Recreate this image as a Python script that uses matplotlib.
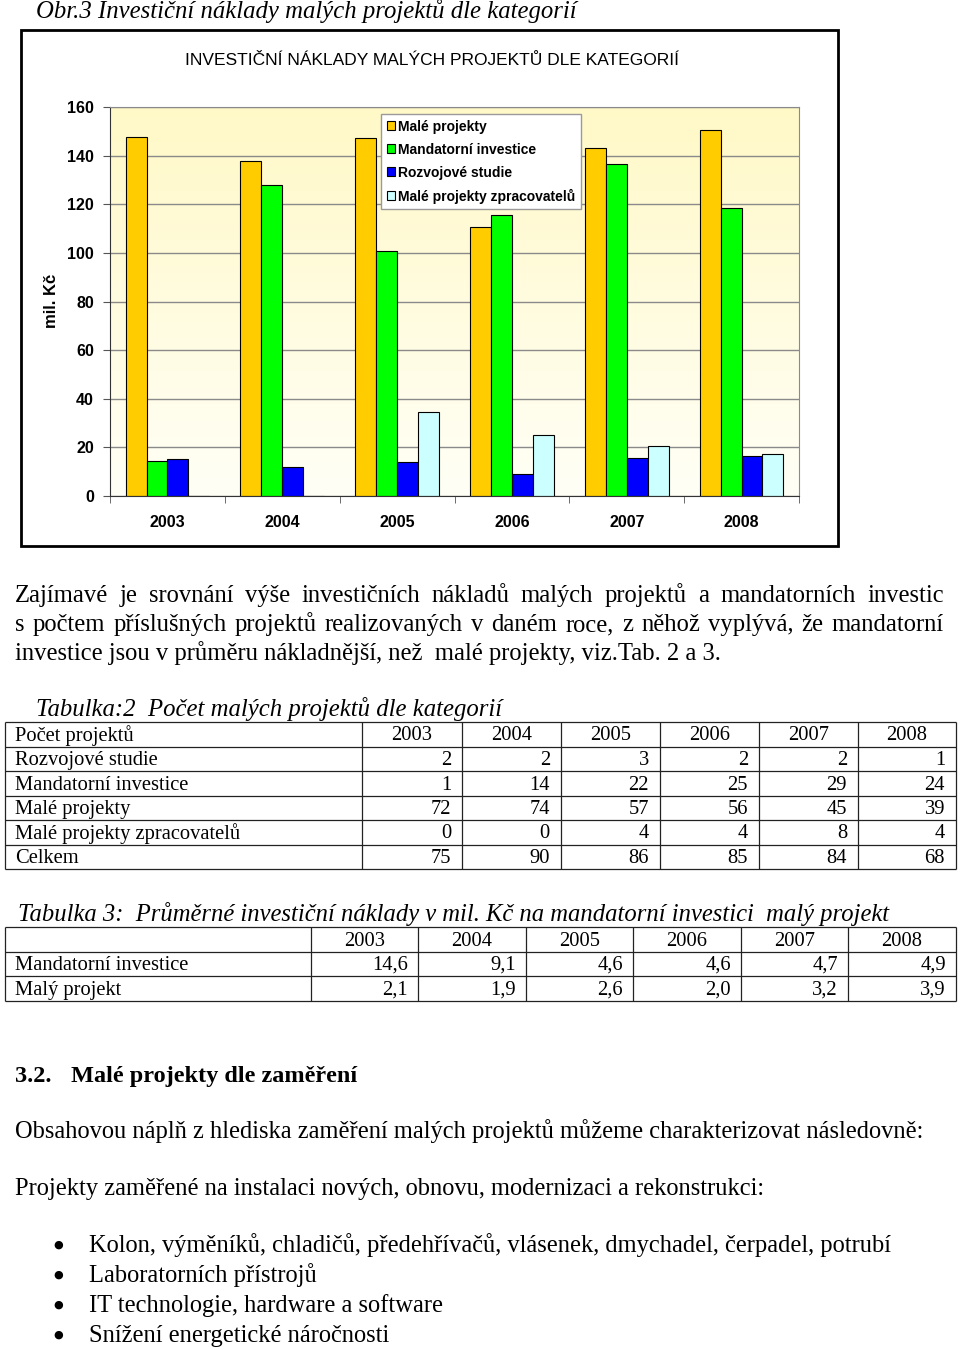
import numpy as np
import matplotlib
matplotlib.use("Agg")
import matplotlib.pyplot as plt
from matplotlib.patches import Rectangle

## data
years = ["2003", "2004", "2005", "2006", "2007", "2008"]
male_projekty = [147.7, 137.9, 147.3, 110.8, 143.0, 150.7]
mandatorni = [14.6, 127.8, 100.8, 115.4, 136.6, 118.3]
rozvojove = [15.3, 11.9, 14.0, 8.9, 15.6, 16.6]
zpracovatelu = [0, 0, 34.6, 25.1, 20.4, 17.1]
series_names = ["Malé projekty", "Mandatorní investice", "Rozvojové studie",
                "Malé projekty zpracovatelů"]
series_colors = ["#FFCC00", "#00FF00", "#0000FF", "#CCFFFF"]
yticks = [0, 20, 40, 60, 80, 100, 120, 140, 160]

t2_corner = "Počet projektů"
t2_labels = ["Rozvojové studie", "Mandatorní investice", "Malé projekty",
             "Malé projekty zpracovatelů", "Celkem"]
t2_values = [[2, 2, 3, 2, 2, 1],
             [1, 14, 22, 25, 29, 24],
             [72, 74, 57, 56, 45, 39],
             [0, 0, 4, 4, 8, 4],
             [75, 90, 86, 85, 84, 68]]

t3_labels = ["Mandatorní investice", "Malý projekt"]
t3_values = [["14,6", "9,1", "4,6", "4,6", "4,7", "4,9"],
             ["2,1", "1,9", "2,6", "2,0", "3,2", "3,9"]]

caption = "Obr.3 Investiční náklady malých projektů dle kategorií"
chart_title = "INVESTIČNÍ NÁKLADY MALÝCH PROJEKTŮ DLE KATEGORIÍ"
ylabel = "mil. Kč"
para = ["Zajímavé je srovnání výše investičních nákladů malých projektů a mandatorních investic",
        "s počtem příslušných projektů realizovaných v daném roce, z něhož vyplývá, že mandatorní",
        "investice jsou v průměru nákladnější, než  malé projekty, viz.Tab. 2 a 3."]
t2_caption = "Tabulka:2  Počet malých projektů dle kategorií"
t3_caption = "Tabulka 3:  Průměrné investiční náklady v mil. Kč na mandatorní investici  malý projekt"
heading_no = "3.2."
heading = "Malé projekty dle zaměření"
line_a = "Obsahovou náplň z hlediska zaměření malých projektů můžeme charakterizovat následovně:"
line_b = "Projekty zaměřené na instalaci nových, obnovu, modernizaci a rekonstrukci:"
bullets = ["Kolon, výměníků, chladičů, předehřívačů, vlásenek, dmychadel, čerpadel, potrubí",
           "Laboratorních přístrojů",
           "IT technologie, hardware a software",
           "Snížení energetické náročnosti"]

SERIF = "Liberation Serif"
SANS = "Liberation Sans"
plt.rcParams["font.family"] = SANS

## page in pixel coordinates
W, H = 960, 1350
fig = plt.figure(figsize=(W / 100, H / 100), dpi=100)
page = fig.add_axes([0, 0, 1, 1])
page.set_xlim(0, W)
page.set_ylim(H, 0)
page.axis("off")
renderer = fig.canvas.get_renderer()


def text_w(s, size, **kw):
    t = page.text(0, 0, s, fontsize=size, **kw)
    w = t.get_window_extent(renderer).width
    t.remove()
    return w


def fit(s, width, **kw):
    return 20 * width / text_w(s, 20, **kw)


def put(x, y, s, **kw):
    return page.text(x, y, s, va="baseline", **kw)


def justify(x0, x1, y, s, size, **kw):
    words = s.split()
    ws = [text_w(w, size, **kw) for w in words]
    gap = (x1 - x0 - sum(ws)) / (len(words) - 1)
    x = x0
    for w, wd in zip(words, ws):
        put(x, y, w, fontsize=size, **kw)
        x += wd + gap


# caption above chart
put(36, 18, caption, family=SERIF, style="italic",
    fontsize=fit(caption, 541, family=SERIF, style="italic"))

# chart frame + title
page.add_patch(Rectangle((21, 30), 817, 516, fill=False, lw=2, ec="black"))
put(185, 65, chart_title, family=SANS, fontsize=fit(chart_title, 493, family=SANS))
page.text(52, 301, ylabel, rotation=90, ha="center", va="center",
          family=SANS, weight="bold", fontsize=12)

## chart
ax = fig.add_axes([110 / W, 1 - 496 / H, 689 / W, 389 / H])
x = np.arange(len(years))
bw = 1 / 5.5
grad = np.linspace(0, 1, 256)[:, None, None]
top_c = np.array([1.0, 0.975, 0.78])
bot_c = np.array([1.0, 1.0, 0.965])
ax.imshow(top_c * (1 - grad) + bot_c * grad, extent=[-0.5, 5.5, 0, 160],
          aspect="auto", zorder=0)
for i, (vals, c, name) in enumerate(zip([male_projekty, mandatorni, rozvojove, zpracovatelu],
                                        series_colors, series_names)):
    ax.bar(x + (i - 1.5) * bw, vals, bw, color=c, edgecolor="black",
           lw=0.8, label=name, zorder=2)
ax.set_xlim(-0.5, 5.5)
ax.set_ylim(0, 160)
ax.set_axisbelow(True)
ax.yaxis.grid(True, color="#8a8a8a", lw=1)
ax.set_yticks(yticks)
ax.set_xticks(x)
ax.set_xticklabels(years)
ax.set_xticks(np.arange(-0.5, 6, 1), minor=True)
ax.tick_params(axis="x", which="major", length=0, pad=13.5, labelsize=11.5)
ax.tick_params(axis="x", which="minor", length=5, color="#555555")
ax.tick_params(axis="y", length=5, pad=6.5, labelsize=11.5, color="#555555")
for lab in ax.get_xticklabels() + ax.get_yticklabels():
    lab.set_fontweight("bold")
for s in ["top", "right"]:
    ax.spines[s].set_color("#8a8a8a")
for s in ["left", "bottom"]:
    ax.spines[s].set_color("#333333")

lsize = fit(series_names[3], 177, family=SANS, weight="bold")
leg = ax.legend(loc="upper left", bbox_to_anchor=(381 / W, 1 - 114 / H),
                bbox_transform=fig.transFigure, borderaxespad=0,
                prop=dict(family=SANS, weight="bold", size=lsize),
                handlelength=0.6, handleheight=0.6, handletextpad=0.25,
                labelspacing=0.65, borderpad=0.4, fancybox=False,
                framealpha=1, edgecolor="#9a9a9a")
leg.get_frame().set_linewidth(1)

## paragraph
psize = fit(para[2], 706, family=SERIF)
justify(15, 944, 602, para[0], psize, family=SERIF)
justify(15, 944, 631, para[1], psize, family=SERIF)
put(15, 660, para[2], fontsize=psize, family=SERIF)

## tables
tsize = fit("Malé projekty zpracovatelů", 225, family=SERIF)


def grid(top, row_h, nrows, cols):
    ys = top + row_h * np.arange(nrows + 1)
    page.hlines(ys, cols[0], cols[-1], color="#222222", lw=0.9)
    page.vlines(cols, ys[0], ys[-1], color="#222222", lw=0.9)
    return ys


put(36, 716, t2_caption, family=SERIF, style="italic",
    fontsize=fit(t2_caption, 466, family=SERIF, style="italic"))
c2 = [5, 362, 462, 561, 660, 759, 858, 956]
ys2 = grid(722, 24.5, 6, c2)
put(15, ys2[1] - 6, t2_corner, family=SERIF, fontsize=tsize)
for j, yr in enumerate(years):
    put((c2[j + 1] + c2[j + 2]) / 2, ys2[1] - 6, yr, ha="center", family=SERIF, fontsize=tsize)
for i, (lab, vals) in enumerate(zip(t2_labels, t2_values)):
    yb = ys2[i + 2] - 6
    put(15, yb, lab, family=SERIF, fontsize=tsize)
    for j, v in enumerate(vals):
        put(c2[j + 2] - 11, yb, str(v), ha="right", family=SERIF, fontsize=tsize)

put(18, 921, t3_caption, family=SERIF, style="italic",
    fontsize=fit(t3_caption, 871, family=SERIF, style="italic"))
c3 = [5, 311, 418, 526, 633, 741, 848, 956]
ys3 = grid(927, 24.5, 3, c3)
for j, yr in enumerate(years):
    put((c3[j + 1] + c3[j + 2]) / 2, ys3[1] - 6, yr, ha="center", family=SERIF, fontsize=tsize)
for i, (lab, vals) in enumerate(zip(t3_labels, t3_values)):
    yb = ys3[i + 2] - 6
    put(15, yb, lab, family=SERIF, fontsize=tsize)
    for j, v in enumerate(vals):
        put(c3[j + 2] - 10, yb, v, ha="right", family=SERIF, fontsize=tsize)

## section text
hsize = fit(heading, 287, family=SERIF, weight="bold")
put(15, 1082, heading_no, family=SERIF, weight="bold", fontsize=hsize)
put(71, 1082, heading, family=SERIF, weight="bold", fontsize=hsize)
bsize = fit(line_a, 910, family=SERIF)
put(15, 1138, line_a, family=SERIF, fontsize=bsize)
put(15, 1195, line_b, family=SERIF, fontsize=bsize)
for k, b in enumerate(bullets):
    yb = 1252 + 30 * k
    page.text(58, yb - 7, "●", ha="center", va="center", family="DejaVu Sans", fontsize=8)
    put(89, yb, b, family=SERIF, fontsize=bsize)

fig.savefig("out.png", dpi=100)
